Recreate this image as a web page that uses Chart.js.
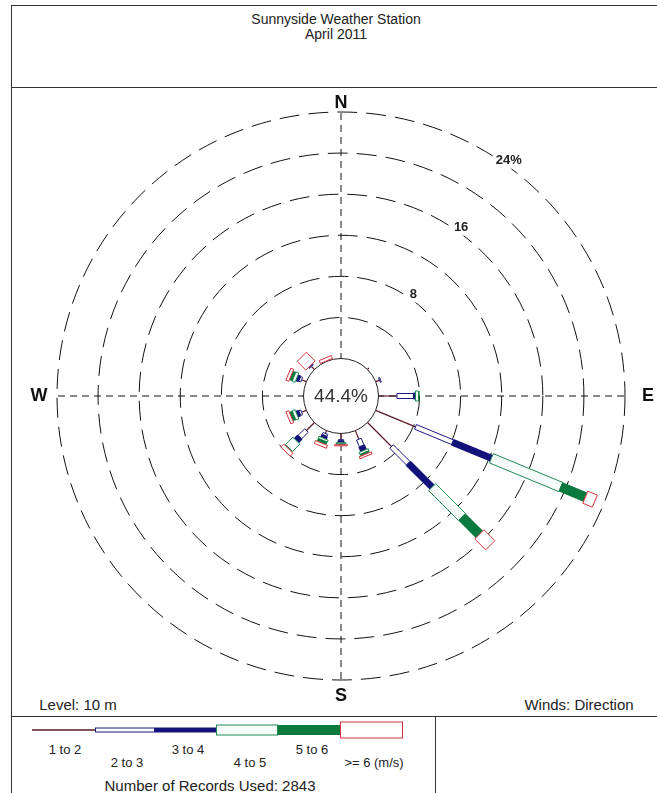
<!DOCTYPE html>
<html>
<head>
<meta charset="utf-8">
<script src="https://cdn.jsdelivr.net/npm/chart.js@4.4.1/dist/chart.umd.min.js"></script>
<style>
  html, body { margin: 0; padding: 0; background: #fff; overflow: hidden; }
  body { width: 657px; height: 793px; position: relative; font-family: Arial, "Liberation Sans", sans-serif; color: #222; }
  .frame { position: absolute; left: 11px; top: 5px; width: 651px; height: 820px; border: 1px solid #333; box-sizing: border-box; }
  .hline { position: absolute; left: 11px; width: 651px; height: 1px; background: #333; }
  .vline { position: absolute; width: 1px; background: #333; }
  .txt { position: absolute; white-space: nowrap; transform: translate(-50%, -50%); }
  #wrap { position: absolute; left: 0; top: 0; width: 657px; height: 793px; }
</style>
</head>
<body>
<div class="frame"></div>
<div class="hline" style="top:87px"></div>
<div class="hline" style="top:716px"></div>
<div class="vline" style="left:435px; top:716px; height:90px"></div>

<div class="txt" style="left:336px; top:19px; font-size:14px">Sunnyside Weather Station</div>
<div class="txt" style="left:336px; top:34px; font-size:14px">April 2011</div>
<div class="txt" style="left:78px; top:704px; font-size:15px">Level: 10 m</div>
<div class="txt" style="left:579px; top:704px; font-size:15px">Winds: Direction</div>

<div class="txt" style="left:65px; top:749px; font-size:13px">1 to 2</div>
<div class="txt" style="left:127px; top:762px; font-size:13px">2 to 3</div>
<div class="txt" style="left:188px; top:749px; font-size:13px">3 to 4</div>
<div class="txt" style="left:250px; top:762px; font-size:13px">4 to 5</div>
<div class="txt" style="left:312px; top:749px; font-size:13px">5 to 6</div>
<div class="txt" style="left:374px; top:762px; font-size:13px">&gt;= 6 (m/s)</div>
<div class="txt" style="left:210px; top:785px; font-size:15px">Number of Records Used: 2843</div>

<div id="wrap"><canvas id="rose"></canvas></div>

<script>
// directions (compass, clockwise from N)
const directions = ['N','NNE','NE','ENE','E','ESE','SE','SSE','S','SSW','SW','WSW','W','WNW','NW','NNW'];

// % of records per speed class (m/s), one value per direction
const speed1to2 = [0, 0, 0.2, 0.4, 1.8, 4.2, 3.3, 0.9, 0.6, 0.3, 1.1, 0.5, 0.1, 0.5, 0.4, 0.05];
const speed2to3 = [0, 0, 0, 0.1, 1.6, 3.9, 2.3, 0.7, 0.1, 0.2, 0.9, 0.2, 0, 0.2, 0.1, 0];
const speed3to4 = [0, 0, 0, 0, 0.2, 4.1, 3.3, 0.5, 0.2, 0.3, 0.5, 0.3, 0, 0.3, 0.05, 0];
const speed4to5 = [0, 0, 0, 0, 0.3, 7.3, 4.1, 0.2, 0.1, 0.2, 1.0, 0.3, 0, 0.3, 0, 0];
const speed5to6 = [0, 0, 0, 0, 0.1, 2.6, 2.4, 0.2, 0.1, 0.3, 0.1, 0.3, 0, 0.3, 0, 0];
const speed6up  = [0, 0, 0, 0, 0, 1.0, 1.5, 0.2, 0.1, 0.3, 0.4, 0.3, 0, 0.3, 1.2, 0.3];

const calmPct = 44.4;
const ringValues = [4, 8, 12, 16, 20, 24];
const ringLabels = ['', '8', '', '16', '', '24%'];

const speedClasses = [speed1to2, speed2to3, speed3to4, speed4to5, speed5to6, speed6up];
const totals = directions.map((d, i) => speedClasses.reduce((s, c) => s + c[i], 0));

// estilo de cada classe: tipo, largura, cores
const classStyles = [
  { kind: 'line', w: 1.2, stroke: '#5c1a28' },
  { kind: 'box',  w: 5,   stroke: '#1a1a80', fill: '#ffffff' },
  { kind: 'fill', w: 7,   fill: '#12127a' },
  { kind: 'box',  w: 10,  stroke: '#1f8a52', fill: '#f6fcf8' },
  { kind: 'fill', w: 10,  fill: '#0b7a3e' },
  { kind: 'box',  w: 13,  stroke: '#d4323c', fill: '#ffffff' }
];
const CALM_OFFSET = 3.65; // raio do círculo de calmaria em unidades de %

function drawSegment(ctx, scale, i, from, to, st){
  const a = scale.getPointPosition(i, scale.getDistanceFromCenterForValue(from));
  const b = scale.getPointPosition(i, scale.getDistanceFromCenterForValue(to));
  if (st.kind === 'line') {
    ctx.beginPath(); ctx.moveTo(a.x, a.y); ctx.lineTo(b.x, b.y);
    ctx.lineWidth = st.w; ctx.strokeStyle = st.stroke; ctx.stroke();
    return;
  }
  const nx = -Math.sin(a.angle) * st.w / 2, ny = Math.cos(a.angle) * st.w / 2;
  ctx.beginPath();
  ctx.moveTo(a.x + nx, a.y + ny); ctx.lineTo(b.x + nx, b.y + ny);
  ctx.lineTo(b.x - nx, b.y - ny); ctx.lineTo(a.x - nx, a.y - ny);
  ctx.closePath();
  ctx.fillStyle = st.fill; ctx.fill();
  if (st.kind === 'box') { ctx.lineWidth = 1; ctx.strokeStyle = st.stroke; ctx.stroke(); }
}

const roseBars = {
  id: 'roseBars',
  afterDatasetsDraw(chart){
    const ctx = chart.ctx, r = chart.scales.r;
    const cx = r.xCenter, cy = r.yCenter;
    const r0 = r.getDistanceFromCenterForValue(0);
    ctx.save();

    // ring labels (8, 16, 24%)
    const bearing = 35.5 * Math.PI / 180;
    ctx.font = 'bold 13px Arial, "Liberation Sans", sans-serif';
    ctx.textAlign = 'center'; ctx.textBaseline = 'middle';
    ringValues.forEach((v, k) => {
      if (!ringLabels[k]) return;
      const d = r.getDistanceFromCenterForValue(v) + 5;
      const x = cx + Math.sin(bearing) * d, y = cy - Math.cos(bearing) * d;
      const tw = ctx.measureText(ringLabels[k]).width;
      ctx.fillStyle = '#fff'; ctx.fillRect(x - tw / 2 - 3, y - 8, tw + 6, 16);
      ctx.fillStyle = '#222'; ctx.fillText(ringLabels[k], x, y);
    });

    // círculo de calmaria
    ctx.beginPath(); ctx.arc(cx, cy, r0, 0, Math.PI * 2);
    ctx.fillStyle = '#fff'; ctx.fill();
    ctx.lineWidth = 1; ctx.strokeStyle = '#222'; ctx.stroke();
    ctx.fillStyle = '#333';
    ctx.font = '19px Arial, "Liberation Sans", sans-serif';
    ctx.fillText(calmPct.toFixed(1) + '%', cx, cy + 1);

    // barras empilhadas por direção
    directions.forEach((d, i) => {
      let acc = 0;
      speedClasses.forEach((vals, k) => {
        const v = vals[i];
        if (v > 0) drawSegment(ctx, r, i, acc, acc + v, classStyles[k]);
        acc += v;
      });
    });

    // N E S W
    const outer = r.getDistanceFromCenterForValue(r.max);
    const cardinal = [[0, 'N', 9], [4, 'E', 23], [8, 'S', 16], [12, 'W', 18]];
    ctx.font = 'bold 18px Arial, "Liberation Sans", sans-serif';
    ctx.fillStyle = '#111';
    cardinal.forEach(([i, txt, pad]) => {
      const p = r.getPointPosition(i, outer + pad);
      ctx.fillText(txt, p.x, p.y);
    });

    // legenda
    const lx = [32, 95, 155, 216, 278, 340, 403];
    const lh = [1.5, 4, 5, 10, 10, 16];
    const ly = 730;
    classStyles.forEach((st, k) => {
      const x0 = lx[k], x1 = lx[k + 1], h = lh[k];
      if (st.kind === 'line') {
        ctx.beginPath(); ctx.moveTo(x0, ly); ctx.lineTo(x1, ly);
        ctx.lineWidth = h; ctx.strokeStyle = st.stroke; ctx.stroke();
      } else {
        ctx.fillStyle = st.fill; ctx.fillRect(x0, ly - h / 2, x1 - x0, h);
        if (st.kind === 'box') { ctx.lineWidth = 1; ctx.strokeStyle = st.stroke; ctx.strokeRect(x0 + 0.5, ly - h / 2, x1 - x0 - 1, h); }
      }
    });
    ctx.restore();
  }
};

new Chart(document.getElementById('rose'), {
  type: 'radar',
  data: {
    labels: directions,
    datasets: [{ label: 'Total (%)', data: totals, borderWidth: 0, pointRadius: 0,
      borderColor: 'rgba(0,0,0,0)', backgroundColor: 'rgba(0,0,0,0)', fill: false }]
  },
  options: {
    responsive: true,
    maintainAspectRatio: false,
    animation: false,
    layout: { padding: { left: 57, top: 112, right: 32, bottom: 113 } },
    plugins: { legend: { display: false }, tooltip: { enabled: false } },
    scales: {
      r: {
        min: -CALM_OFFSET,
        max: 24,
        afterBuildTicks: s => { s.ticks = ringValues.map(v => ({ value: v })); },
        ticks: { display: false },
        pointLabels: { display: false },
        grid: { circular: true, color: '#111', lineWidth: 1 },
        border: { dash: [20, 9] },
        angleLines: {
          display: true,
          color: c => c.index % 4 === 0 ? '#111' : 'rgba(0,0,0,0)',
          lineWidth: c => c.index % 4 === 0 ? 1 : 0,
          borderDash: [7, 5]
        }
      }
    }
  },
  plugins: [roseBars]
});
</script>
</body>
</html>
